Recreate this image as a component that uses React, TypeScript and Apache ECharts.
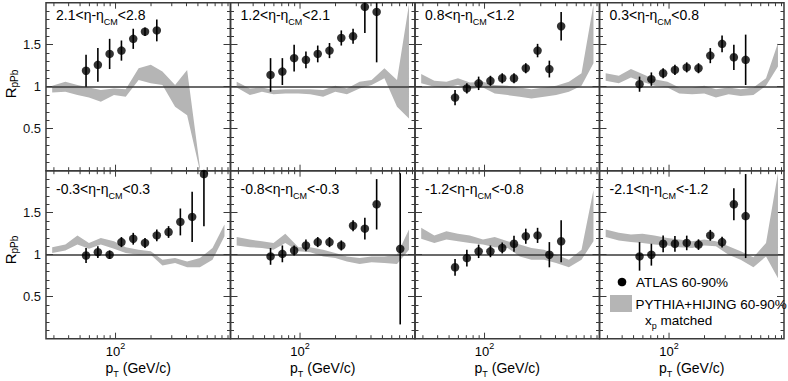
import React, { useEffect, useRef } from "react";
import * as echarts from "echarts";

const FONT = "'Liberation Sans', Arial, Helvetica, sans-serif";
const FRAME = "#3a3a3a";
const BAND = "#b5b5b5";

const X_MIN = 25.7;
const X_MAX = 945;
const Y_MIN = 0;
const Y_MAX = 2;

// pT bin centres (GeV/c) of the ATLAS points
const binCenters = [56.2, 70.8, 89.1, 112.2, 141.3, 177.8, 223.9, 281.8, 354.8, 446.7, 562.3, 707.9];
// abscissae of the PYTHIA+HIJING band vertices
const bandX = [29, 37.5, 47.5, 59.5, 75, 97, 122, 157, 199, 250, 320, 405, 520, 665, 840];

const xTickValues = [30, 40, 50, 60, 70, 80, 90, 100, 200, 300, 400, 500, 600, 700, 800, 900];
const xMajorTick = 100;
const yTickLabels = [0.5, 1, 1.5];

const etaLow = ["2.1", "1.2", "0.8", "0.3", "-0.3", "-0.8", "-1.2", "-2.1"];
const etaHigh = ["2.8", "2.1", "1.2", "0.8", "0.3", "-0.3", "-0.8", "-1.2"];

// ATLAS 60-90% R_pPb per eta bin (null = no point)
const r_21_28 = [1.19, 1.26, 1.39, 1.43, 1.57, 1.655, 1.67, null, null, null, null, null];
const e_21_28 = [0.19, 0.2, 0.18, 0.12, 0.12, 0.05, 0.13, null, null, null, null, null];
const r_12_21 = [1.14, 1.18, 1.34, 1.32, 1.39, 1.43, 1.58, 1.6, 1.95, 1.89, null, null];
const e_12_21 = [0.2, 0.16, 0.16, 0.1, 0.1, 0.09, 0.09, 0.09, 0.31, 0.6, null, null];
const r_08_12 = [0.87, 0.98, 1.04, 1.07, 1.1, 1.1, 1.22, 1.43, 1.21, 1.72, null, null];
const e_08_12 = [0.09, 0.06, 0.08, 0.06, 0.06, 0.06, 0.06, 0.08, 0.1, 0.17, null, null];
const r_03_08 = [1.03, 1.09, 1.16, 1.2, 1.23, 1.22, 1.37, 1.51, 1.35, 1.32, null, null];
const e_03_08 = [0.09, 0.08, 0.06, 0.06, 0.06, 0.06, 0.09, 0.1, 0.15, 0.3, null, null];
const r_m03_03 = [0.99, 1.03, 1.0, 1.15, 1.19, 1.14, 1.23, 1.27, 1.39, 1.45, 1.96, null];
const e_m03_03 = [0.09, 0.07, 0.05, 0.06, 0.07, 0.06, 0.07, 0.07, 0.16, 0.3, 0.62, null];
const r_m08_m03 = [0.98, 1.01, 1.05, 1.11, 1.15, 1.15, 1.11, 1.345, 1.31, 1.6, null, 1.07];
const e_m08_m03 = [0.1, 0.1, 0.06, 0.07, 0.06, 0.06, 0.06, 0.065, 0.13, 0.3, null, 0.9];
const r_m12_m08 = [0.85, 0.96, 1.04, 1.04, 1.08, 1.13, 1.22, 1.23, 1.0, 1.16, null, null];
const e_m12_m08 = [0.1, 0.1, 0.08, 0.07, 0.065, 0.095, 0.09, 0.09, 0.15, 0.25, null, null];
const r_m21_m12 = [0.98, 1.0, 1.13, 1.13, 1.14, 1.12, 1.23, 1.15, 1.6, 1.46, null, null];
const e_m21_m12 = [0.17, 0.13, 0.1, 0.094, 0.087, 0.063, 0.065, 0.065, 0.19, 0.5, null, null];

// PYTHIA+HIJING band, lower and upper edges
const lo_21_28 = [0.93, 0.94, 0.9, 0.87, 0.82, 0.9, 0.88, 1.08, 1.04, 1.02, 0.76, 0.66, 0.0];
const hi_21_28 = [1.01, 1.06, 1.02, 0.99, 0.96, 0.98, 0.97, 1.22, 1.26, 1.18, 1.02, 1.2, 0.04];
const lo_12_21 = [0.99, 0.9, 0.94, 0.91, 0.92, 0.92, 0.91, 0.88, 0.94, 0.91, 0.98, 1.02, 1.1, 0.76, 0.62];
const hi_12_21 = [1.06, 0.98, 0.99, 0.96, 0.97, 0.97, 0.97, 0.96, 1.01, 0.98, 1.06, 1.08, 1.22, 1.08, 1.98];
const lo_08_12 = [1.04, 1.0, 0.99, 1.02, 0.97, 0.99, 0.92, 0.9, 0.88, 0.86, 0.88, 0.9, 0.94, 1.01, 1.28];
const hi_08_12 = [1.15, 1.07, 1.06, 1.1, 1.05, 1.06, 1.02, 1.01, 0.99, 0.97, 0.99, 1.01, 1.06, 1.16, 1.98];
const lo_03_08 = [1.07, 1.04, 1.11, 1.06, 1.01, 0.99, 0.92, 0.91, 0.92, 0.87, 0.91, 0.89, 0.9, 1.01, 1.24];
const hi_03_08 = [1.16, 1.13, 1.21, 1.15, 1.09, 1.06, 0.99, 0.99, 1.01, 0.97, 0.99, 0.97, 0.99, 1.1, 1.52];
const lo_m03_03 = [1.02, 1.05, 1.12, 1.07, 1.12, 1.07, 1.02, 1.0, 1.0, 0.87, 0.9, 0.85, 0.85, 0.94, 1.22];
const hi_m03_03 = [1.09, 1.12, 1.23, 1.14, 1.2, 1.16, 1.09, 1.06, 1.04, 0.94, 0.96, 0.92, 0.96, 1.08, 1.36];
const lo_m08_m03 = [1.11, 1.09, 1.08, 1.06, 1.14, 1.04, 1.03, 0.98, 0.96, 0.92, 0.89, 0.91, 0.9, 0.89, 1.06];
const hi_m08_m03 = [1.21, 1.18, 1.16, 1.14, 1.25, 1.09, 1.09, 1.06, 1.02, 0.98, 0.96, 0.98, 0.98, 1.0, 1.3];
const lo_m12_m08 = [1.19, 1.14, 1.18, 1.16, 1.14, 1.12, 1.09, 1.08, 0.98, 0.94, 0.94, 0.9, 0.85, 0.94, 1.16];
const hi_m12_m08 = [1.32, 1.23, 1.28, 1.25, 1.23, 1.18, 1.21, 1.16, 1.12, 1.08, 1.06, 1.0, 0.94, 1.06, 1.77];
const lo_m21_m12 = [1.21, 1.17, 1.15, 1.14, 1.12, 1.11, 1.09, 1.08, 1.11, 1.1, 1.0, 0.94, 0.85, 0.98, 0.72];
const hi_m21_m12 = [1.3, 1.26, 1.24, 1.25, 1.23, 1.2, 1.18, 1.16, 1.18, 1.16, 1.1, 1.04, 0.97, 1.14, 1.97];

const atlasR = [r_21_28, r_12_21, r_08_12, r_03_08, r_m03_03, r_m08_m03, r_m12_m08, r_m21_m12];
const atlasE = [e_21_28, e_12_21, e_08_12, e_03_08, e_m03_03, e_m08_m03, e_m12_m08, e_m21_m12];
const bandLo = [lo_21_28, lo_12_21, lo_08_12, lo_03_08, lo_m03_03, lo_m08_m03, lo_m12_m08, lo_m21_m12];
const bandHi = [hi_21_28, hi_12_21, hi_08_12, hi_03_08, hi_m03_03, hi_m08_m03, hi_m12_m08, hi_m21_m12];

// layout
const GRID_LEFT = 46;
const GRID_TOP = 2.7;
const CELL_W = 184.5;
const CELL_H = 168;
const LEGEND_FONT = 13.5;

// rich styles for "main + subscript" texts; mainLH / subLH keep the text boxes tight
const subRich = (main: number, sub: number, drop: number, mainLH = main, subLH = sub) => ({
  n: { fontSize: main, fontFamily: FONT, color: "#000", lineHeight: mainLH, verticalAlign: "top" },
  s: { fontSize: sub, fontFamily: FONT, color: "#000", lineHeight: subLH, verticalAlign: "top", padding: [drop, 0, 0, 0] },
});

function buildOption() {
  const grid: any[] = [];
  const xAxis: any[] = [];
  const yAxis: any[] = [];
  const yAxisRight: any[] = [];
  const series: any[] = [];
  const graphic: any[] = [];

  for (let i = 0; i < 8; i++) {
    const r = Math.floor(i / 4);
    const c = i % 4;
    grid.push({
      left: GRID_LEFT + c * CELL_W,
      top: GRID_TOP + r * CELL_H,
      width: CELL_W,
      height: CELL_H,
      show: true,
      borderColor: FRAME,
      borderWidth: 1.5,
      backgroundColor: "transparent",
      containLabel: false,
      outerBoundsMode: "none",
    });
    xAxis.push({
      type: "log",
      logBase: 10,
      gridIndex: i,
      min: X_MIN,
      max: X_MAX,
      axisLine: { show: false },
      axisTick: { show: false },
      splitLine: { show: false },
      minorTick: { show: false },
      axisLabel: {
        show: r === 1,
        margin: 2,
        showMinLabel: false,
        showMaxLabel: false,
        formatter: (v: number) => (Math.abs(v - xMajorTick) < 0.5 ? "{b|10}{p|2}" : ""),
        rich: {
          b: { fontSize: 13, fontFamily: FONT, color: "#000", lineHeight: 10, verticalAlign: "top", padding: [4.8, 0, 0, 0] },
          p: { fontSize: 9, fontFamily: FONT, color: "#000", lineHeight: 7, verticalAlign: "top", padding: [0.8, 0, 0, 0] },
        },
      },
    });
    const yCommon = {
      type: "value",
      gridIndex: i,
      min: Y_MIN,
      max: Y_MAX,
      interval: 0.5,
      axisLine: { show: false },
      axisTick: { show: true, inside: true, length: 7, lineStyle: { color: FRAME, width: 1 } },
      minorTick: { show: true, splitNumber: 5, length: 3.5, lineStyle: { color: FRAME, width: 1 } },
      splitLine: { show: false },
      minorSplitLine: { show: false },
    };
    yAxis.push({
      ...yCommon,
      position: "left",
      axisLabel: {
        show: c === 0,
        margin: 5,
        fontSize: 13,
        fontFamily: FONT,
        color: "#111",
        formatter: (v: number) => (yTickLabels.some((t) => Math.abs(t - v) < 1e-6) ? String(v) : ""),
      },
    });
    yAxisRight.push({ ...yCommon, position: "right", axisLabel: { show: false } });

    // PYTHIA+HIJING band
    const lo = bandLo[i];
    const hi = bandHi[i];
    const bandData = lo.map((l, k) => [bandX[k], l, hi[k]]);
    series.push({
      type: "custom",
      xAxisIndex: i,
      yAxisIndex: i,
      z: 1,
      silent: true,
      data: bandData,
      renderItem: (params: any, api: any) => {
        if (params.dataIndex !== 0) return null;
        const clampY = (v: number) => Math.max(Y_MIN, Math.min(Y_MAX, v));
        const top = bandData.map((d) => api.coord([d[0], clampY(d[2])]));
        const bot = bandData.map((d) => api.coord([d[0], clampY(d[1])])).reverse();
        return { type: "polygon", shape: { points: top.concat(bot) }, style: { fill: BAND } };
      },
    });

    // axis ticks along top and bottom edges
    series.push({
      type: "custom",
      xAxisIndex: i,
      yAxisIndex: i,
      z: 2,
      silent: true,
      data: xTickValues.map((v) => [v, 1]),
      renderItem: (params: any, api: any) => {
        const v = api.value(0);
        const len = v === xMajorTick ? 6 : 3.5;
        const pb = api.coord([v, Y_MIN]);
        const pt = api.coord([v, Y_MAX]);
        const st = { stroke: FRAME, lineWidth: 1 };
        return {
          type: "group",
          children: [
            { type: "line", shape: { x1: pb[0], y1: pb[1], x2: pb[0], y2: pb[1] - len }, style: st },
            { type: "line", shape: { x1: pt[0], y1: pt[1], x2: pt[0], y2: pt[1] + len }, style: st },
          ],
        };
      },
    });

    // reference line at R = 1
    series.push({
      type: "line",
      xAxisIndex: i,
      yAxisIndex: i,
      data: [],
      silent: true,
      markLine: {
        silent: true,
        z: 3,
        symbol: ["none", "none"],
        label: { show: false },
        lineStyle: { color: FRAME, width: 1.5, type: "solid" },
        emphasis: { disabled: true },
        data: [{ yAxis: 1 }],
      },
    });

    // ATLAS points
    const pts: number[][] = [];
    atlasR[i].forEach((y, k) => {
      if (y !== null) pts.push([binCenters[k], y as number, atlasE[i][k] as number]);
    });
    series.push({
      type: "custom",
      xAxisIndex: i,
      yAxisIndex: i,
      z: 9,
      silent: true,
      data: pts,
      renderItem: (params: any, api: any) => {
        const x = api.value(0);
        const y = api.value(1);
        const e = api.value(2);
        const p1 = api.coord([x, Math.max(Y_MIN, y - e)]);
        const p2 = api.coord([x, Math.min(Y_MAX, y + e)]);
        return {
          type: "line",
          shape: { x1: p1[0], y1: p1[1], x2: p2[0], y2: p2[1] },
          style: { stroke: "#000", lineWidth: 1.6 },
        };
      },
    });
    series.push({
      type: "scatter",
      xAxisIndex: i,
      yAxisIndex: i,
      z: 10,
      silent: true,
      symbol: "circle",
      symbolSize: 8.5,
      itemStyle: { color: "#000" },
      data: pts.map((p) => [p[0], p[1]]),
    });

    // panel label
    graphic.push({
      type: "text",
      x: GRID_LEFT + c * CELL_W + 10,
      y: r === 0 ? 7.5 : 181.5,
      silent: true,
      style: {
        text: `{n|${etaLow[i]}<η-η}{s|CM}{n|<${etaHigh[i]}}`,
        rich: subRich(14, 9, 10),
        align: "left",
        verticalAlign: "top",
      },
    });
  }

  // y titles
  for (let r = 0; r < 2; r++) {
    graphic.push({
      type: "text",
      x: 10,
      y: r === 0 ? 84 : 250,
      rotation: Math.PI / 2,
      silent: true,
      style: {
        text: "{n|R}{s|pPb}",
        rich: subRich(15, 10, 7),
        align: "center",
        verticalAlign: "middle",
      },
    });
  }
  // x titles
  for (let c = 0; c < 4; c++) {
    graphic.push({
      type: "text",
      x: GRID_LEFT + c * CELL_W + CELL_W / 2,
      y: 360.6,
      silent: true,
      style: {
        text: "{n|p}{s|T}{n| (GeV/c)}",
        rich: subRich(14, 9, 9, 10, 7),
        align: "center",
        verticalAlign: "top",
      },
    });
  }
  // legend
  graphic.push({ type: "circle", silent: true, shape: { cx: 622, cy: 282, r: 4.3 }, style: { fill: "#000" } });
  graphic.push({
    type: "text", x: 636, y: 282, silent: true,
    style: { text: "ATLAS 60-90%", fontSize: LEGEND_FONT, fontFamily: FONT, fill: "#000", align: "left", verticalAlign: "middle" },
  });
  graphic.push({ type: "rect", silent: true, shape: { x: 610, y: 295, width: 22, height: 17 }, style: { fill: BAND } });
  graphic.push({
    type: "text", x: 635.5, y: 304, silent: true,
    style: { text: "PYTHIA+HIJING 60-90%", fontSize: LEGEND_FONT, fontFamily: FONT, fill: "#000", align: "left", verticalAlign: "middle" },
  });
  graphic.push({
    type: "text", x: 645, y: 313.5, silent: true,
    style: { text: "{n|x}{s|p}{n| matched}", rich: subRich(LEGEND_FONT, 9, 7.5), align: "left", verticalAlign: "top" },
  });

  return {
    animation: false,
    backgroundColor: "#fff",
    textStyle: { fontFamily: FONT },
    grid,
    xAxis,
    yAxis: yAxis.concat(yAxisRight),
    series,
    graphic,
  };
}

export default function App() {
  const ref = useRef<HTMLDivElement>(null);
  useEffect(() => {
    if (!ref.current) return;
    const chart = echarts.init(ref.current, null, { renderer: "svg", width: 788, height: 381 });
    chart.setOption(buildOption() as any);
    return () => chart.dispose();
  }, []);
  return <div ref={ref} style={{ position: "fixed", left: 0, top: 0, width: 788, height: 381 }} />;
}
